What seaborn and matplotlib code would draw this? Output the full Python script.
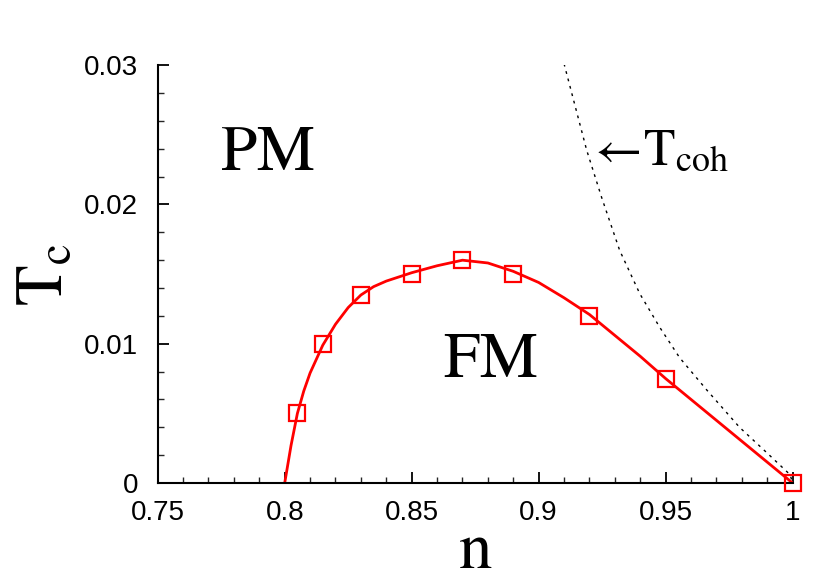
import matplotlib
matplotlib.use('Agg')
from matplotlib import pyplot as plt
from matplotlib.ticker import MultipleLocator
import pandas as pd
import seaborn as sns

# Tc(n) data points (squares)
n_pts = [0.805, 0.815, 0.83, 0.85, 0.87, 0.89, 0.92, 0.95, 1.0]
tc_pts = [0.005, 0.010, 0.0135, 0.015, 0.016, 0.015, 0.012, 0.0075, 0.0]

# smooth red curve
n_fit = [0.8, 0.8025, 0.805, 0.8075, 0.81, 0.815, 0.82, 0.825, 0.83, 0.835, 0.84,
         0.845, 0.85, 0.86, 0.87, 0.88, 0.89, 0.90, 0.91, 0.92, 0.93, 0.94,
         0.95, 0.96, 0.97, 0.98, 0.99, 1.0]
tc_fit = [0.0, 0.0027, 0.0050, 0.0066, 0.0079, 0.0099, 0.0114, 0.0126, 0.0135, 0.0141, 0.0145,
          0.0148, 0.0151, 0.0156, 0.0160, 0.0158, 0.0152, 0.0144, 0.0133, 0.0121, 0.0106, 0.0091,
          0.0075, 0.0060, 0.0045, 0.0030, 0.0015, 0.0]

# coherence temperature (dotted)
n_coh = [0.910, 0.9189, 0.9248, 0.9319, 0.9398, 0.9476, 0.9555, 0.9661, 0.9791,
         0.9897, 0.999, 1.0]
t_coh = [0.0301, 0.0239, 0.0205, 0.0167, 0.0136, 0.0112, 0.0090, 0.0067, 0.0040,
         0.0022, 0.0006, 0.0]

x_ticks = [0.75, 0.8, 0.85, 0.9, 0.95, 1.0]
x_labels = ['0.75', '0.8', '0.85', '0.9', '0.95', '1']
y_ticks = [0.0, 0.01, 0.02, 0.03]
y_labels = ['0', '0.01', '0.02', '0.03']

sns.set_style('ticks')
plt.rcParams['mathtext.fontset'] = 'stix'
plt.rcParams['font.family'] = ['Liberation Sans', 'DejaVu Sans']
plt.rcParams['text.color'] = 'black'
plt.rcParams['axes.labelcolor'] = 'black'

fig = plt.figure(figsize=(8.3, 5.82), dpi=100)
ax = fig.add_axes([0.190, 0.170, 0.765, 0.718])

df_fit = pd.DataFrame({'n': n_fit, 'tc': tc_fit})
df_pts = pd.DataFrame({'n': n_pts, 'tc': tc_pts})
df_coh = pd.DataFrame({'n': n_coh, 't': t_coh})

sns.lineplot(data=df_coh, x='n', y='t', ax=ax, color='black', linestyle=(0, (2, 3.5)),
             linewidth=1.0, sort=False)
sns.lineplot(data=df_fit, x='n', y='tc', ax=ax, color='red', linewidth=2.0, sort=False)
ax.plot(df_pts['n'], df_pts['tc'], linestyle='none', marker='s', markersize=12,
        markerfacecolor='none', markeredgecolor='red', markeredgewidth=1.6,
        clip_on=False, zorder=5)

ax.set_xlim(0.75, 1.0)
ax.set_ylim(0.0, 0.03)
ax.set_xticks(x_ticks)
ax.set_xticklabels(x_labels)
ax.set_yticks(y_ticks)
ax.set_yticklabels(y_labels)
ax.xaxis.set_minor_locator(MultipleLocator(0.01))
ax.yaxis.set_minor_locator(MultipleLocator(0.002))
ax.tick_params(which='major', direction='in', length=8, width=1.3, labelsize=20,
               colors='black')
ax.tick_params(axis='x', which='major', pad=12)
ax.tick_params(axis='y', which='major', pad=14)
ax.tick_params(which='minor', direction='in', length=4, width=1.0)

for side in ['top', 'right']:
    ax.spines[side].set_visible(False)
for side in ['left', 'bottom']:
    ax.spines[side].set_linewidth(1.5)
    ax.spines[side].set_color('black')

ax.set_xlabel('$\\mathrm{n}$', fontsize=48, labelpad=-4)
ax.set_ylabel('$\\mathrm{T}_{\\mathrm{c}}$', fontsize=48, labelpad=6)

ax.text(0.793, 0.0237, '$\\mathrm{PM}$', fontsize=47, ha='center', va='center')
ax.text(0.881, 0.0088, '$\\mathrm{FM}$', fontsize=47, ha='center', va='center')
ax.text(0.9192, 0.0238, '$\\leftarrow\\!\\mathrm{T}_{\\mathrm{coh}}$', fontsize=37,
        ha='left', va='center')

fig.savefig('out.png', dpi=100)
